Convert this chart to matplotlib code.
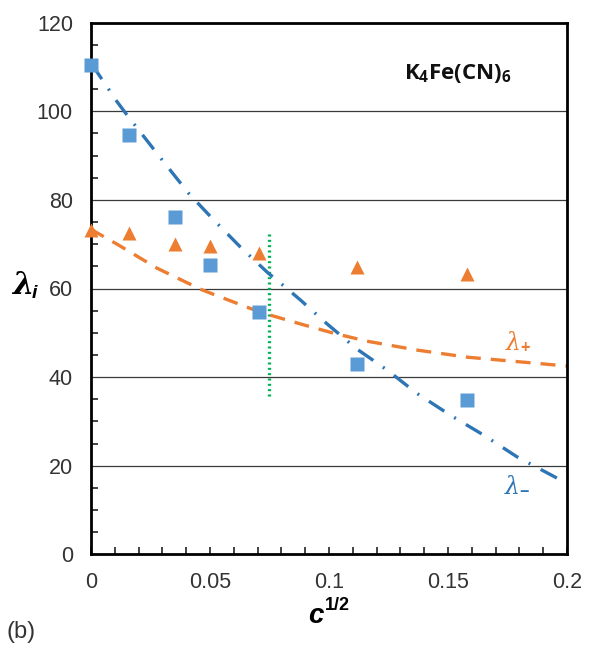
import numpy as np
import matplotlib.pyplot as plt
from matplotlib.ticker import MultipleLocator

plt.rcParams['font.family'] = ['Liberation Sans', 'DejaVu Sans']
plt.rcParams['mathtext.fontset'] = 'custom'
plt.rcParams['mathtext.rm'] = 'Open Sans:bold'
plt.rcParams['mathtext.bf'] = 'Open Sans:bold'
plt.rcParams['mathtext.it'] = 'DejaVu Serif:italic'

#************** data **************
sqrt_c = [0.0, 0.0158, 0.0354, 0.05, 0.0707, 0.1118, 0.1581]
lam_minus = [110.4, 94.6, 76.1, 65.3, 54.7, 43.0, 34.8]   # squares
lam_plus = [73.3, 72.6, 70.0, 69.5, 68.0, 64.9, 63.3]     # triangles

# fitted curves
fit_minus_x = [0.0, 0.0025, 0.0109, 0.0155, 0.0305, 0.041, 0.0515, 0.0627, 0.0746,
               0.081, 0.088, 0.099, 0.1118, 0.1244, 0.137, 0.151, 0.165, 0.179, 0.2]
fit_minus_y = [110.6, 108.9, 102.2, 98.9, 88.6, 81.5, 75.5, 69.4, 63.4,
               60.6, 57.4, 52.1, 46.3, 41.6, 36.3, 31.4, 26.9, 22.0, 16.0]
fit_plus_x = [0.0, 0.0018, 0.0116, 0.0277, 0.0396, 0.0466, 0.0577, 0.0669, 0.0753,
              0.088, 0.102, 0.116, 0.137, 0.158, 0.179, 0.2]
fit_plus_y = [73.5, 72.8, 69.8, 64.6, 61.5, 59.7, 57.4, 55.5, 54.0,
              52.0, 49.9, 48.1, 46.1, 44.5, 43.5, 42.5]

marker_x = [0.0746, 0.0746]
marker_y = [35.8, 72.8]

grid_y = [20, 40, 60, 80, 100]

W, H = 590, 647
fig = plt.figure(figsize=(W/100, H/100), dpi=100)
ax = fig.add_axes([91/W, 1-554.3/H, (567-91)/W, (554.3-22.7)/H])

for g in grid_y:
    ax.axhline(g, color='#3a3a3a', lw=0.9, zorder=1)

ax.plot(marker_x, marker_y, color='#00B050', lw=2.4, linestyle=(0, (0.6, 1.0)), zorder=2)
ax.plot(fit_plus_x, fit_plus_y, color='#ED7D31', lw=2.4, linestyle=(0, (4.5, 3.0)), zorder=2)
ax.plot(fit_minus_x, fit_minus_y, color='#2E75B6', lw=2.4,
        linestyle=(0, (5.5, 3.5, 0.6, 3.5)), zorder=3)
ax.plot(sqrt_c, lam_minus, 's', color='#5B9BD5', ms=9.5, mec='none', zorder=4, clip_on=False)
ax.plot(sqrt_c, lam_plus, '^', color='#ED7D31', ms=10, mec='none', zorder=4, clip_on=False)

ax.set_xlim(0, 0.2)
ax.set_ylim(0, 120)
ax.xaxis.set_minor_locator(MultipleLocator(0.01))
ax.yaxis.set_minor_locator(MultipleLocator(5))
ax.set_yticks([0, 20, 40, 60, 80, 100, 120])
ax.set_yticklabels(['0', '20', '40', '60', '80', '100', '120'])
ax.set_xticks([0, 0.05, 0.1, 0.15, 0.2])
ax.set_xticklabels(['0', '0.05', '0.1', '0.15', '0.2'])
ax.tick_params(which='both', direction='in', length=5, width=1.2, color='#222222',
               labelsize=15.5, labelcolor='#333333', pad=13)
ax.tick_params(axis='y', which='major', length=0)
for s in ax.spines.values():
    s.set_linewidth(2.0)
    s.set_color('black')

ax.text(0.1315, 108.6, r'K$_{\mathrm{4}}$Fe(CN)$_{\mathrm{6}}$', fontsize=16, fontweight='bold',
        family=['Open Sans', 'DejaVu Sans'], va='center', ha='left', color='#111111')
ax.text(0.1795, 47.9, r'$\lambda_{+}$', fontsize=17, color='#ED7D31', ha='center', va='center')
ax.text(0.179, 15.6, r'$\lambda_{-}$', fontsize=17, color='#2E75B6', ha='center', va='center')

# axis titles
fig.text(12/W, 1-285/H, 'λ', fontsize=22, fontweight='bold', fontstyle='italic',
         family=['DejaVu Serif'], ha='left', va='center')
fig.text(32/W, 1-293/H, 'i', fontsize=14, fontweight='bold', fontstyle='italic',
         family=['Liberation Sans'], ha='left', va='center')
fig.text(324/W, 1-616/H, 'c', fontsize=20, fontweight='bold', fontstyle='italic',
         ha='right', va='center')
fig.text(325/W, 1-605/H, '1/2', fontsize=13, fontweight='bold', ha='left', va='center')
fig.text(7/W, 1-632/H, '(b)', fontsize=17, color='#333333', ha='left', va='center')

fig.savefig('out.png', dpi=100)
